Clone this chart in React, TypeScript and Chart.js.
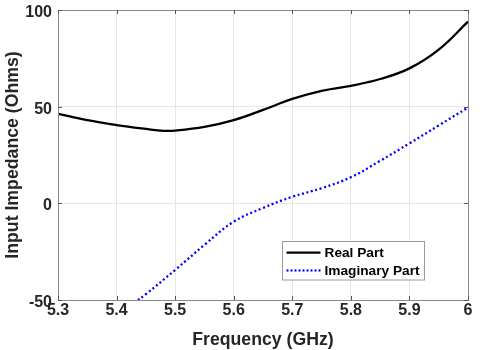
import React, { useEffect, useRef } from "react";
import { Chart, registerables } from "chart.js";

Chart.register(...registerables);

const realFreq = [5.3, 5.35, 5.4, 5.45, 5.48, 5.5, 5.55, 5.6, 5.65, 5.7, 5.75, 5.8, 5.85, 5.9, 5.95, 6.0];
const realValues = [46.3, 43.0, 40.5, 38.5, 37.5, 37.6, 39.5, 43.0, 48.3, 54.0, 58.2, 60.8, 64.3, 69.8, 79.5, 94.0];

const imagFreq = [5.43, 5.45, 5.5, 5.55, 5.6, 5.65, 5.7, 5.75, 5.8, 5.85, 5.9, 5.95, 6.0];
const imagValues = [-51.5, -47.0, -34.5, -21.5, -9.5, -2.4, 3.4, 7.8, 13.5, 22.0, 31.0, 40.3, 49.5];

const xTicks = [5.3, 5.4, 5.5, 5.6, 5.7, 5.8, 5.9, 6.0];
const yTicks = [-50, 0, 50, 100];

const seriesLabels = ["Real Part", "Imaginary Part"];
const xTitle = "Frequency (GHz)";
const yTitle = "Input Impedance (Ohms)";

const FONT = '"Liberation Sans", Arial, sans-serif';

const fmtX = (v: number) => String(Number(v.toFixed(1)));

const overlayPlugin = {
  id: "overlay",
  afterDraw(chart: any) {
    const { ctx, chartArea } = chart;
    const { left, right, top, bottom } = chartArea;
    const xs = chart.scales.x;
    const ys = chart.scales.y;
    ctx.save();
    // box
    ctx.strokeStyle = "#8a8a8a";
    ctx.lineWidth = 1;
    ctx.strokeRect(Math.round(left) + 0.5, Math.round(top) + 0.5, Math.round(right - left), Math.round(bottom - top));
    // inward ticks
    ctx.strokeStyle = "#555";
    ctx.beginPath();
    xTicks.forEach((v) => {
      const px = Math.round(xs.getPixelForValue(v)) + 0.5;
      ctx.moveTo(px, bottom);
      ctx.lineTo(px, bottom - 4);
      ctx.moveTo(px, top);
      ctx.lineTo(px, top + 4);
    });
    yTicks.forEach((v) => {
      const py = Math.round(ys.getPixelForValue(v)) + 0.5;
      ctx.moveTo(left, py);
      ctx.lineTo(left + 4, py);
      ctx.moveTo(right, py);
      ctx.lineTo(right - 4, py);
    });
    ctx.stroke();

    // tick labels
    ctx.fillStyle = "#262626";
    ctx.font = `bold 16px ${FONT}`;
    ctx.textBaseline = "alphabetic";
    ctx.textAlign = "center";
    xTicks.forEach((v) => {
      ctx.fillText(fmtX(v), xs.getPixelForValue(v), 315);
    });
    ctx.textAlign = "right";
    yTicks.forEach((v) => {
      ctx.fillText(String(v), 52, ys.getPixelForValue(v) + 7);
    });

    // axis titles
    ctx.font = `bold 17.7px ${FONT}`;
    ctx.textAlign = "center";
    ctx.textBaseline = "middle";
    ctx.fillText(xTitle, (left + right) / 2, 340);
    ctx.save();
    ctx.translate(13, (top + bottom) / 2);
    ctx.rotate(-Math.PI / 2);
    ctx.fillText(yTitle, 0, 0);
    ctx.restore();

    // legend
    const lx = 282.5, ly = 241.5, lw = 142, lh = 38.5;
    ctx.fillStyle = "#ffffff";
    ctx.fillRect(lx, ly, lw, lh);
    ctx.strokeStyle = "#9a9a9a";
    ctx.lineWidth = 1;
    ctx.strokeRect(lx, ly, lw, lh);
    const rows = [
      { y: 252.7, color: "#000000", dash: [] as number[] },
      { y: 270.5, color: "#0000ff", dash: [2, 2] },
    ];
    rows.forEach((r, i) => {
      ctx.strokeStyle = r.color;
      ctx.lineWidth = 2.2;
      ctx.setLineDash(r.dash);
      ctx.beginPath();
      ctx.moveTo(286.5, r.y);
      ctx.lineTo(320.5, r.y);
      ctx.stroke();
      ctx.setLineDash([]);
      ctx.fillStyle = "#000000";
      ctx.font = `bold 13.7px ${FONT}`;
      ctx.textAlign = "left";
      ctx.textBaseline = "middle";
      ctx.fillText(seriesLabels[i], 324.5, r.y + 0.5);
    });
    ctx.restore();
  },
};

export default function App() {
  const ref = useRef<HTMLCanvasElement | null>(null);
  useEffect(() => {
    document.body.style.margin = "0";
    const canvas = ref.current!;
    const chart = new Chart(canvas, {
      type: "line",
      data: {
        datasets: [
          {
            label: seriesLabels[0],
            data: realFreq.map((f, i) => ({ x: f, y: realValues[i] })),
            borderColor: "#000000",
            borderWidth: 2.3,
            pointRadius: 0,
            tension: 0.4,
            fill: false,
          },
          {
            label: seriesLabels[1],
            data: imagFreq.map((f, i) => ({ x: f, y: imagValues[i] })),
            borderColor: "#0000ff",
            borderWidth: 2.3,
            borderDash: [2, 2.6],
            pointRadius: 0,
            tension: 0.4,
            fill: false,
          },
        ],
      },
      options: {
        responsive: false,
        animation: false,
        devicePixelRatio: 1,
        layout: { padding: { left: 0, right: 12, top: 10, bottom: 0 } },
        plugins: { legend: { display: false }, tooltip: { enabled: false } },
        scales: {
          x: {
            type: "linear",
            min: 5.3,
            max: 6.0,
            afterFit: (s: any) => {
              s.height = 50;
            },
            afterBuildTicks: (s: any) => {
              s.ticks = xTicks.map((v) => ({ value: v }));
            },
            ticks: { display: false, autoSkip: false },
            grid: { color: "#e6e6e6", drawTicks: false },
            border: { display: false },
          },
          y: {
            type: "linear",
            min: -50,
            max: 100,
            afterFit: (s: any) => {
              s.width = 58;
            },
            afterBuildTicks: (s: any) => {
              s.ticks = yTicks.map((v) => ({ value: v }));
            },
            ticks: { display: false, autoSkip: false },
            grid: { color: "#e6e6e6", drawTicks: false },
            border: { display: false },
          },
        },
      },
      plugins: [overlayPlugin],
    } as any);
    return () => chart.destroy();
  }, []);
  return <canvas ref={ref} width={480} height={350} style={{ display: "block" }} />;
}
